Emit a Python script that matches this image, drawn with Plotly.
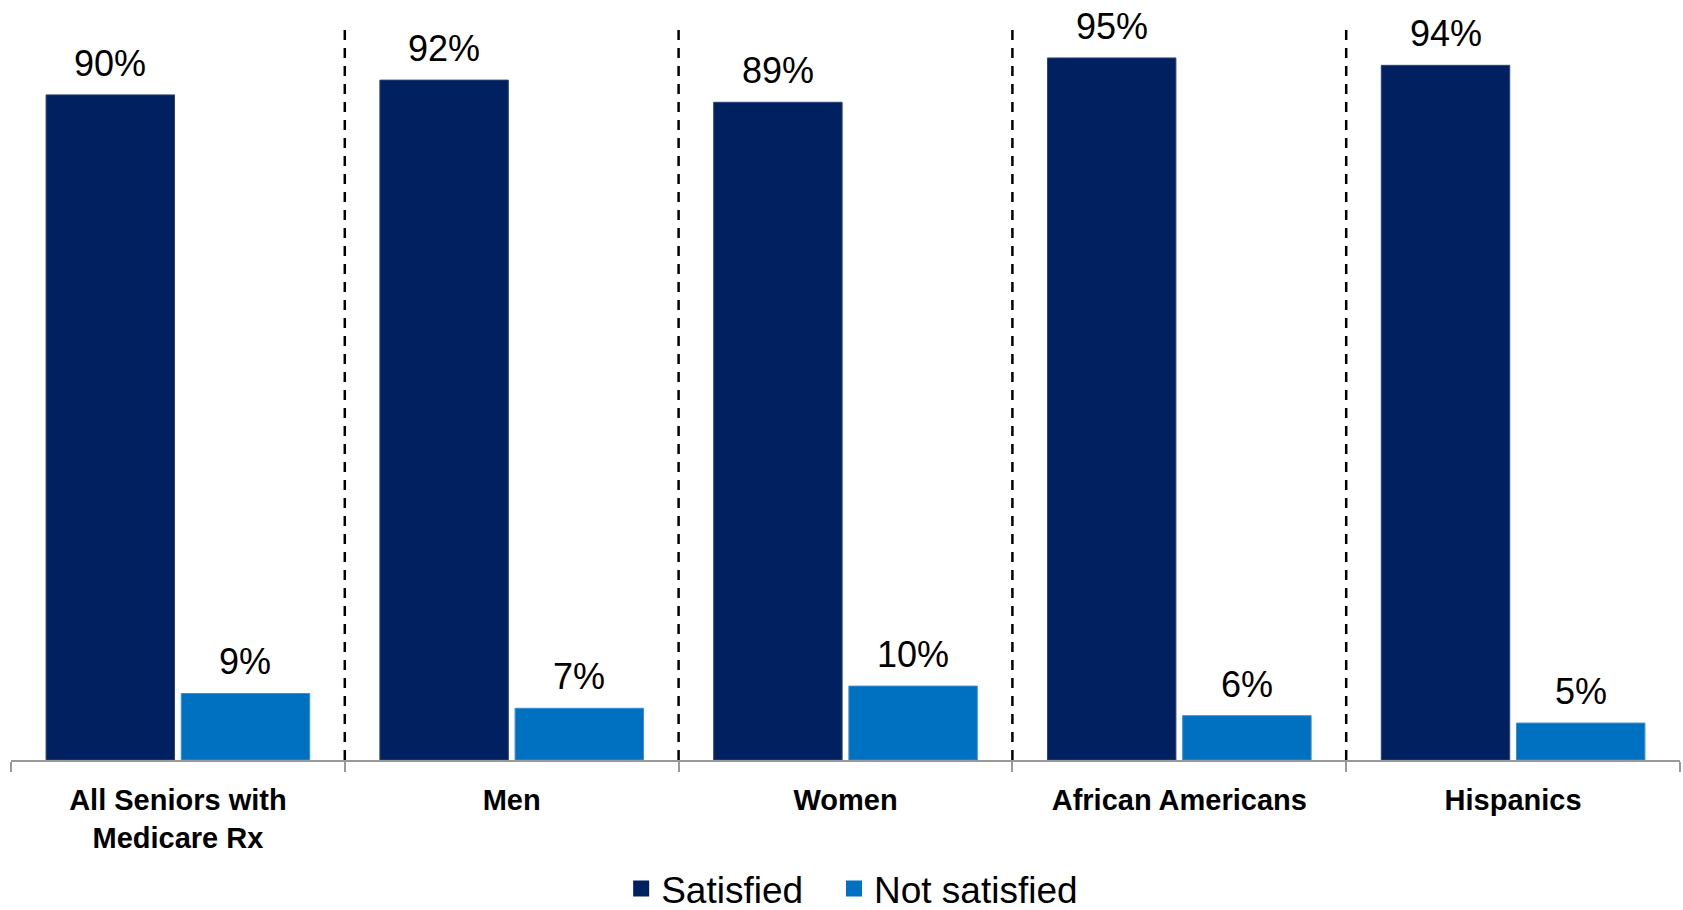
import plotly.graph_objects as go

categories = ["All Seniors with<br>Medicare Rx", "Men", "Women", "African Americans", "Hispanics"]
satisfied = [90, 92, 89, 95, 94]
not_satisfied = [9, 7, 10, 6, 5]
series_names = ["Satisfied", "Not satisfied"]
colors = ["#002060", "#0070C0"]
edge_colors = ["#2c4378", "#3d8fcf"]

BARGAP = 0.19
fig = go.Figure()
for name, vals, col, ec in zip(series_names, [satisfied, not_satisfied], colors, edge_colors):
    fig.add_trace(go.Bar(x=categories, y=vals, name=name, showlegend=False,
                         marker=dict(color=col, line=dict(width=1, color=ec))))
# legend entries (larger square swatches); trailing space on the first widens the gap between entries
legend_suffix = ["\u2002\u2009", ""]
for name, col, suf in zip(series_names, colors, legend_suffix):
    fig.add_trace(go.Scatter(x=[None], y=[None], mode="markers", name=name + suf,
                             marker=dict(symbol="square", size=16, color=col)))

# value labels
slot = (1 - BARGAP) / 2
for si, vals in enumerate([satisfied, not_satisfied]):
    off = -slot / 2 if si == 0 else slot / 2
    for i, v in enumerate(vals):
        fig.add_annotation(x=i + off, y=v, text=f"{v}%", showarrow=False,
                           xref="x", yref="y", yanchor="bottom", yshift=9,
                           font=dict(size=36, color="#000000", family="Liberation Sans, Arial"))

# dashed separators
for b in range(1, len(categories)):
    fig.add_shape(type="line", xref="x", yref="paper", x0=b - 0.5, x1=b - 0.5,
                  y0=0, y1=0.996, line=dict(color="#000000", width=2.5, dash="10px,8px"))

fig.update_layout(
    width=1683, height=910,
    margin=dict(l=11, r=3, t=21, b=150, autoexpand=False),
    plot_bgcolor="white", paper_bgcolor="white",
    barmode="group", bargap=BARGAP, bargroupgap=0.05,
    font=dict(family="Liberation Sans, Arial", color="#000000"),
    showlegend=True,
    legend=dict(orientation="h", x=0.504, xanchor="center", y=-0.1746, yanchor="middle",
                font=dict(size=37), itemsizing="trace", traceorder="normal",
                tracegroupgap=0, itemwidth=30),
    xaxis=dict(type="category", range=[-0.5, len(categories) - 0.5],
               tickson="boundaries", ticks="outside", ticklen=10, tickwidth=2, tickcolor="#999999",
               showline=True, linecolor="#999999", linewidth=2, ticklabelstandoff=13,
               tickfont=dict(size=29, family="Liberation Sans, Arial", weight="bold"),
               showgrid=False, automargin=False),
    yaxis=dict(range=[0, 100], visible=False, showgrid=False, zeroline=False, automargin=False),
)
fig.write_html("out.html", config={"displayModeBar": False},
               post_script="document.body.style.margin='0px';")
